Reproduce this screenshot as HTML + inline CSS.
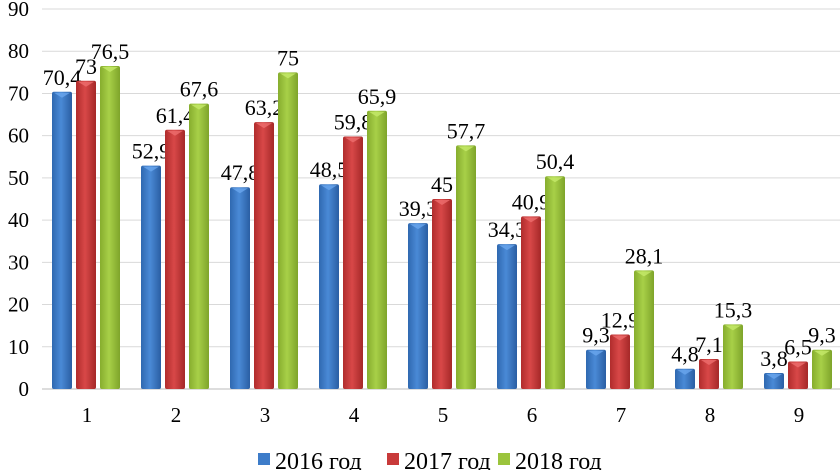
<!DOCTYPE html>
<html><head><meta charset="utf-8"><style>
body{margin:0;background:#fff;}
svg{display:block;font-family:"Liberation Serif",serif;}
</style></head><body>
<svg id="chart" width="840" height="470">
<defs>
<linearGradient id="gb" x1="0" x2="1"><stop offset="0" stop-color="#2f68b0"/><stop offset="0.45" stop-color="#4a8ad6"/><stop offset="1" stop-color="#2a5ea3"/></linearGradient>
<linearGradient id="gr" x1="0" x2="1"><stop offset="0" stop-color="#b02c2c"/><stop offset="0.45" stop-color="#d84848"/><stop offset="1" stop-color="#a52828"/></linearGradient>
<linearGradient id="gg" x1="0" x2="1"><stop offset="0" stop-color="#86ad2e"/><stop offset="0.45" stop-color="#a8d048"/><stop offset="1" stop-color="#7ea42a"/></linearGradient>
</defs>
</svg>
<script>
const categories=["1","2","3","4","5","6","7","8","9"];
const s2016=[70.4,52.9,47.8,48.5,39.3,34.3,9.3,4.8,3.8];
const s2017=[73,61.4,63.2,59.8,45,40.9,12.9,7.1,6.5];
const s2018=[76.5,67.6,75,65.9,57.7,50.4,28.1,15.3,9.3];
const yTicks=[0,10,20,30,40,50,60,70,80,90];
const seriesNames=["2016 год","2017 год","2018 год"];
const NS="http://www.w3.org/2000/svg";
const svg=document.getElementById('chart');
const y0=389,pxPer=4.222,left=42,step=89;
const y=v=>y0-v*pxPer;
const xc=i=>left+45+i*step;
function mk(t,a){const e=document.createElementNS(NS,t);for(const k in a)e.setAttribute(k,a[k]);svg.appendChild(e);return e;}
yTicks.forEach(t=>{
  const l=mk('line',{x1:left,x2:840,y1:y(t),y2:y(t),stroke:t===0?'#bbb':'#d9d9d9','stroke-width':1});
  
  
  const tx=mk('text',{x:29,y:y(t)+7,'text-anchor':'end','font-size':21,fill:'#000'});tx.textContent=t;
  
  
});
const series=[s2016,s2017,s2018],fills=['url(#gb)','url(#gr)','url(#gg)'],caps=['#6aa6ee','#ee6e6e','#c6ea6a'];
categories.forEach((c,i)=>{
  series.forEach((s,j)=>{
    const bx=xc(i)-35+j*24,w=20,top=y(s[i]);
    const r=mk('rect',{x:bx,y:top,width:w,height:y0-top,fill:fills[j],rx:2});
    
    
    const cp=mk('polygon',{points:`${bx+2},${top+1} ${bx+w-2},${top+1} ${bx+w/2},${top+6}`,fill:caps[j],opacity:0.8});
    
    
    const t=mk('text',{x:bx+w/2,y:top-7,'text-anchor':'middle','font-size':22,fill:'#000'});
    t.textContent=String(s[i]).replace('.',',');
    
    
  });
  const t=mk('text',{x:xc(i),y:422,'text-anchor':'middle','font-size':21});t.textContent=c;
  
  
});
const legX=[258,387,498],legC=['#3d7cc9','#c83a3a','#9bc43c'];
seriesNames.forEach((n,j)=>{
  const r=mk('rect',{x:legX[j],y:453,width:12,height:12,fill:legC[j]});
  
  
  const t=mk('text',{x:legX[j]+17,y:469,'font-size':24});t.textContent=n;
  
  
});
</script>
</body></html>
